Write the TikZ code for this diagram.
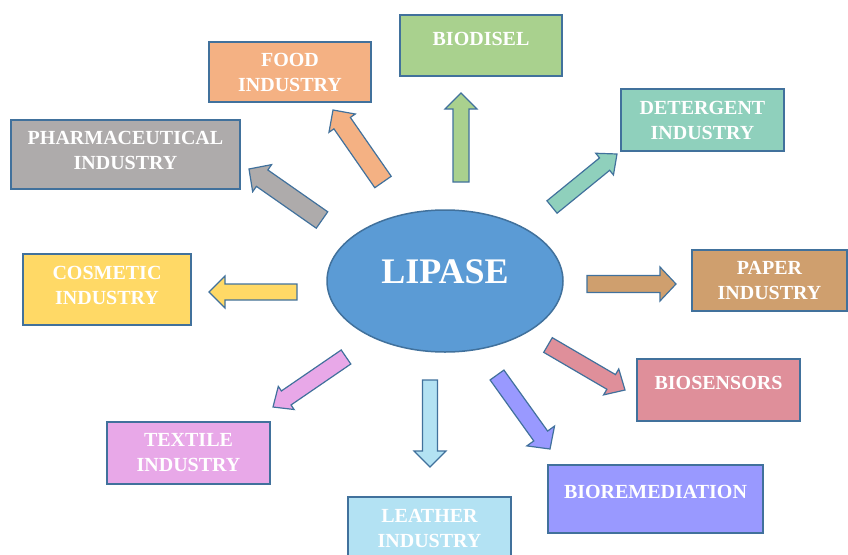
\documentclass[tikz,border=0pt]{standalone}
\usepackage{fontspec}
\setmainfont{Liberation Serif}
\usetikzlibrary{shapes.geometric,calc}

\definecolor{bordo}{HTML}{41719C}
\definecolor{lipasi}{HTML}{5B9BD5}
\definecolor{cibo}{HTML}{F4B183}
\definecolor{biodiesel}{HTML}{A9D18E}
\definecolor{farma}{HTML}{AEABAB}
\definecolor{detergente}{HTML}{8FD0BC}
\definecolor{cosmetico}{HTML}{FFD966}
\definecolor{carta}{HTML}{CF9F6E}
\definecolor{biosensori}{HTML}{DF8F9A}
\definecolor{biorimedio}{HTML}{9999FF}
\definecolor{tessile}{HTML}{E8A8E8}
\definecolor{pelle}{HTML}{B3E2F3}

% freccia a blocco: colore, coda, punta, mezza larghezza asta, mezza larghezza punta
\newcommand{\freccia}[5]{%
  \draw[freccialinea, fill=#1]
    ($(#2)!#4pt!90:(#3)$) -- ($(#3)!16pt!(#2)!#4pt!90:(#3)$)
    -- ($(#3)!16pt!(#2)!#5pt!90:(#3)$) -- (#3)
    -- ($(#3)!16pt!(#2)!#5pt!-90:(#3)$) -- ($(#3)!16pt!(#2)!#4pt!-90:(#3)$)
    -- ($(#2)!#4pt!-90:(#3)$) -- cycle;
}

\begin{document}
\begin{tikzpicture}[x=1pt, y=-1pt,
    scatola/.style={draw=bordo, line width=1.5pt, text=white, align=center,
      font=\fontsize{20}{25}\selectfont\bfseries, inner sep=0pt, minimum height=62pt},
    unariga/.style={text depth=14pt},
    freccialinea/.style={draw=bordo, line width=1.2pt, line join=miter}]
    \useasboundingbox (0,0) rectangle (848,554);

    % Ellisse centrale
    \node[ellipse, draw=bordo, line width=1.5pt, fill=lipasi, minimum width=236pt,
      minimum height=142pt, text=white, font=\fontsize{36}{40}\selectfont\bfseries,
      text depth=18pt] (lipase) at (445,281) {LIPASE};

    % Applicazioni
    \node[scatola, fill=cibo, minimum width=162pt, minimum height=60pt] (cibo) at (290,72) {FOOD\\INDUSTRY};
    \node[scatola, unariga, fill=biodiesel, minimum width=162pt, minimum height=61pt] (biodisel) at (481,45.5) {BIODISEL};
    \node[scatola, fill=farma, minimum width=229pt, minimum height=69pt, text depth=8pt] (farma) at (125.5,154.5) {PHARMACEUTICAL\\INDUSTRY};
    \node[scatola, fill=detergente, minimum width=163pt] (detergente) at (702.5,120) {DETERGENT\\INDUSTRY};
    \node[scatola, fill=cosmetico, minimum width=168pt, minimum height=71pt, text depth=8pt] (cosmetico) at (107,289.5) {COSMETIC\\INDUSTRY};
    \node[scatola, fill=carta, minimum width=155pt, minimum height=61pt] (carta) at (769.5,280.5) {PAPER\\INDUSTRY};
    \node[scatola, unariga, fill=biosensori, minimum width=163pt] (biosensori) at (718.5,390) {BIOSENSORS};
    \node[scatola, unariga, fill=biorimedio, minimum width=215pt, minimum height=68pt] (biorimedio) at (655.5,499) {BIOREMEDIATION};
    \node[scatola, fill=tessile, minimum width=163pt] (tessile) at (188.5,453) {TEXTILE\\INDUSTRY};
    \node[scatola, fill=pelle, minimum width=163pt] (pelle) at (429.5,528) {LEATHER\\INDUSTRY};

    % Frecce (coda -> punta)
    \foreach \n/\c/\xa/\ya/\xb/\yb/\w/\h in {
        cibo/cibo/383/182/333/110/10/16,
        farma/farma/322/220/249/169/10/16.5,
        biodisel/biodiesel/461/182/461/93/8/16,
        detergente/detergente/552/207/617/154/8/14,
        cosmetico/cosmetico/297/292/209/292/8/16,
        carta/carta/587/284/676/284/8.5/17,
        biosensori/biosensori/548/345/625/390/8.5/15,
        biorimedio/biorimedio/497/375/550/449/8.5/17,
        pelle/pelle/430/380/430/467/7.5/16,
        tessile/tessile/346/357/273/407/8.5/14} {
        \coordinate (\n-coda) at (\xa,\ya);
        \coordinate (\n-punta) at (\xb,\yb);
        \freccia{\c}{\n-coda}{\n-punta}{\w}{\h}
    }
\end{tikzpicture}
\end{document}
